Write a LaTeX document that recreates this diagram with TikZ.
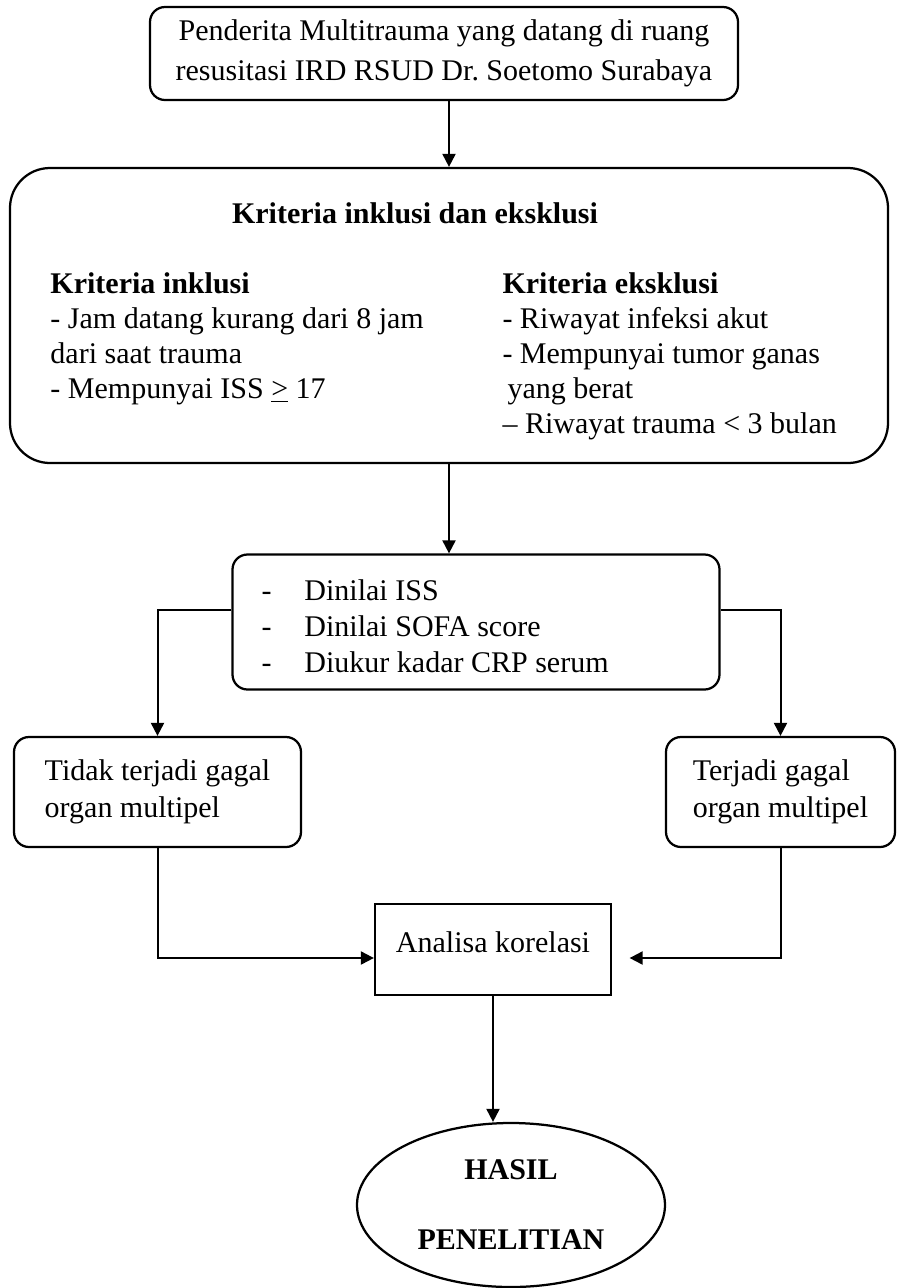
\documentclass[tikz,border=0pt]{standalone}
\usepackage{fontspec}
\setmainfont{Liberation Serif}
\usetikzlibrary{arrows.meta, positioning, shapes.geometric, calc}

\begin{document}
\begin{tikzpicture}[
    x=0.4pt, y=-0.4pt,
    box/.style={draw, rounded corners=6pt, line width=0.9pt, align=left, font=\fontsize{12}{14.8}\selectfont},
    sqbox/.style={draw, line width=0.9pt, font=\fontsize{12}{14}\selectfont},
    oval/.style={draw, ellipse, line width=0.9pt, align=center, inner sep=0pt, font=\bfseries\fontsize{12}{28}\selectfont},
    txt/.style={inner sep=0pt, align=left, font=\fontsize{12}{14}\selectfont},
    arrow/.style={-{Triangle[width=5.2pt, length=5.2pt]}, line width=0.8pt},
]
\useasboundingbox (0,0) rectangle (900,1288);

% Pasien
\node[box, align=center, font=\fontsize{12}{16}\selectfont, minimum width=235.2pt, minimum height=37.2pt] (pend) at (444,53.5)
    {Penderita Multitrauma yang datang di ruang\\resusitasi IRD RSUD Dr.\ Soetomo Surabaya};

% Kriteria
\node[box, rounded corners=16pt, minimum width=351.2pt, minimum height=118pt] (krit) at (449,315.5) {};
\node[txt, font=\bfseries\fontsize{12}{14}\selectfont] (judul) at (415,213) {Kriteria inklusi dan eksklusi};
\node[txt, anchor=north west] (inkl) at (50,272)
    {\textbf{Kriteria inklusi}\\- Jam datang kurang dari 8 jam\\dari saat trauma\\- Mempunyai ISS \underline{>} 17};
\node[txt, anchor=north west] (eksk) at (502,272)
    {\textbf{Kriteria eksklusi}\\- Riwayat infeksi akut\\- Mempunyai tumor ganas\\\hspace{2pt}yang berat\\– Riwayat trauma < 3 bulan};

% Penilaian
\node[box, minimum width=194.8pt, minimum height=54pt] (nilai) at (476,622) {};
\node[txt, anchor=west, font=\fontsize{12}{14.4}\selectfont] (nilaitxt) at (261,626)
    {\makebox[17.2pt][l]{-}Dinilai ISS\\\makebox[17.2pt][l]{-}Dinilai SOFA score\\\makebox[17.2pt][l]{-}Diukur kadar CRP serum};

% Cabang
\node[box, minimum width=114.8pt, minimum height=44pt] (tidak) at (157.5,792) {Tidak terjadi gagal\\organ multipel};
\node[box, minimum width=91.6pt, minimum height=44pt] (terjadi) at (780.5,792) {Terjadi gagal\\organ multipel};

% Analisa dan hasil
\node[sqbox, minimum width=94.4pt, minimum height=36.4pt] (anal) at (493,949.5) {\raisebox{6pt}{Analisa korelasi}};
\node[oval, minimum width=123.2pt, minimum height=65.6pt] (hasil) at (511,1205) {HASIL\\PENELITIAN};

\draw[arrow] (krit.north |- pend.south) -- (krit.north);
\draw[arrow] (krit.south) -- (krit.south |- nilai.north);
\draw[arrow] ([yshift=4.8pt]nilai.west) -| (tidak.north);
\draw[arrow] ([yshift=4.8pt]nilai.east) -| (terjadi.north);
\draw[arrow] (tidak.south) |- ([yshift=-3.4pt]anal.west);
\draw[arrow, shorten >=7pt] (terjadi.south) |- ([yshift=-3.4pt]anal.east);
\draw[arrow] (anal.south) -- (anal.south |- hasil.north);

\end{tikzpicture}
\end{document}
